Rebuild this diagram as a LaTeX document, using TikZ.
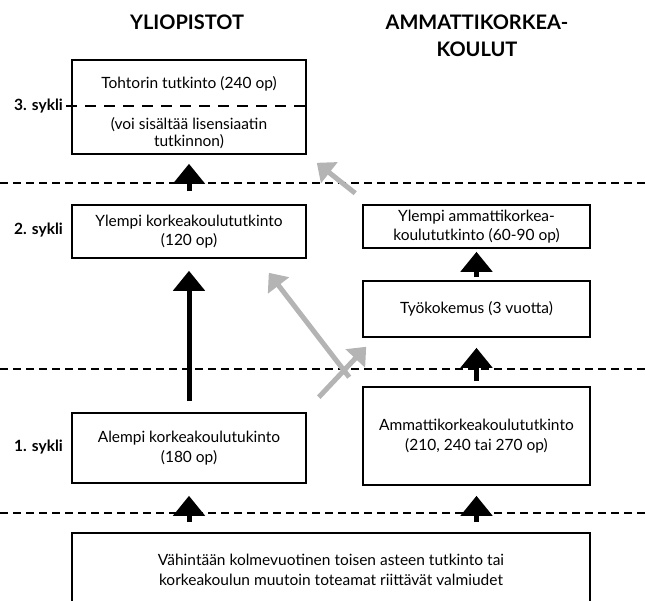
\documentclass[tikz,border=0pt]{standalone}
\usepackage{fontspec}
\setmainfont{Lato}
\usetikzlibrary{arrows.meta}
\definecolor{harmaa}{RGB}{180,180,180}

\begin{document}
\begin{tikzpicture}[x=1pt, y=-1pt, font=\fontsize{15.5}{19.5}\selectfont,
box/.style = {draw, line width=1.6pt, minimum width=234pt, align=center, inner sep=0pt},
amkbox/.style = {box, minimum width=227pt},
otsikko/.style = {font=\bfseries\fontsize{20}{27}\selectfont, align=center},
sykli/.style = {font=\bfseries\fontsize{15.5}{17}\selectfont, anchor=east, inner sep=0pt},
raja/.style = {line width=1.6pt, dash pattern=on 8pt off 5pt},
sisaraja/.style = {line width=1.6pt, dash pattern=on 11pt off 8pt},
nuoli/.style = {line width=5pt, -{Triangle[length=20pt, width=31pt]}},
sivunuoli/.style = {line width=5pt, draw=harmaa, -{Triangle[length=16pt, width=26pt]}}]
\clip (0,0) rectangle (647,601);

\node[otsikko] (yo) at (187,22) {YLIOPISTOT};
\node[otsikko] (amko) at (477,36) {AMMATTIKORKEA-\\KOULUT};

\node[box, minimum height=94pt] (toht) at (189,107) {};
\node (tohtA) at (189,84) {Tohtorin tutkinto (240 op)};
\node[align=center, font=\fontsize{15.5}{16.5}\selectfont] (tohtB) at (189,133) {(voi sisältää lisensiaatin\\tutkinnon)};
\node[box, minimum height=53pt] (ylkk) at (189,231.5) {Ylempi korkeakoulututkinto\\(120 op)};
\node[box, minimum height=70pt] (alkk) at (189,448) {Alempi korkeakoulutukinto\\(180 op)};

\node[amkbox, minimum height=43pt] (ylamk) at (476.5,226.5) {Ylempi ammattikorkea-\\koulututkinto (60-90 op)};
\node[amkbox, minimum height=56pt] (tyo) at (476.5,309) {Työkokemus (3 vuotta)};
\node[amkbox, minimum height=98pt] (amk) at (476.5,436) {Ammattikorkeakoulututkinto\\(210, 240 tai 270 op)};

\node[box, minimum width=518pt, minimum height=74pt] (pohja) at (331,570) {Vähintään kolmevuotinen toisen asteen tutkinto tai\\korkeakoulun muutoin toteamat riittävät valmiudet};

\node[sykli] (s3) at (63,106) {3. sykli};
\node[sykli] (s2) at (63,230) {2. sykli};
\node[sykli] (s1) at (63,447) {1. sykli};

\draw[sisaraja] (66,106) -- (toht.east |- 0,106);
\draw[raja] (0,183) -- (647,183);
\draw[raja] (0,369) -- (647,369);
\draw[raja] (0,513) -- (647,513);

\draw[nuoli, shorten <=13pt, shorten >=9pt] (ylkk) -- (toht);
\draw[nuoli, shorten <=11pt, shorten >=12pt] (alkk) -- (ylkk);
\draw[nuoli, shorten <=10pt, shorten >=12pt] (pohja.north -| alkk) -- (alkk.south);
\draw[nuoli, shorten <=3pt, shorten >=3pt] (tyo) -- (ylamk);
\draw[nuoli, shorten <=5pt, shorten >=10pt] (amk) -- (tyo);
\draw[nuoli, shorten <=10pt, shorten >=10pt] (pohja.north -| amk) -- (amk.south);

\draw[sivunuoli] ([shift={(-7,-11)}]ylamk.north west) -- ([shift={(10,8)}]toht.south east);
\draw[sivunuoli] ([shift={(12,-15)}]alkk.north east) -- ([shift={(4,9)}]tyo.south west);
\draw[sivunuoli] ([shift={(-13,-9)}]amk.north west) -- ([shift={(-38,14)}]ylkk.south east);
\end{tikzpicture}
\end{document}
